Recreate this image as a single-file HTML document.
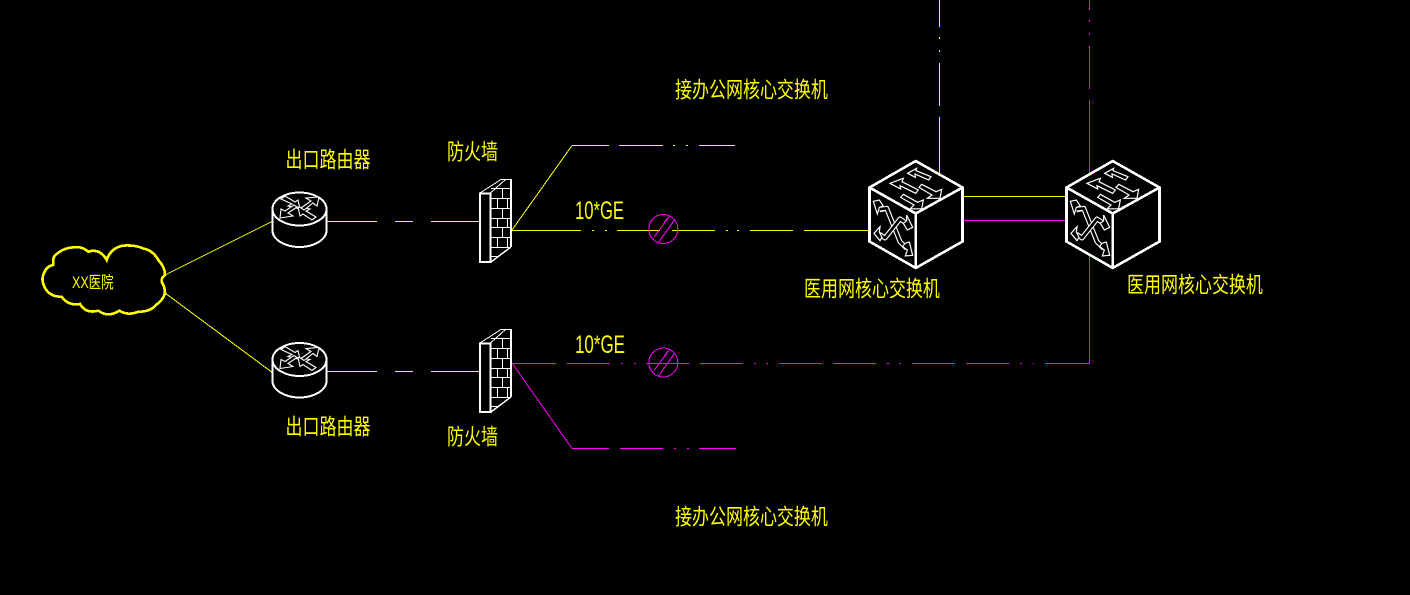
<!DOCTYPE html>
<html><head><meta charset="utf-8"><style>
html,body{margin:0;padding:0;background:#000;width:1410px;height:595px;overflow:hidden}
svg{display:block;position:absolute;left:0;top:0}
.y{stroke:#ff0;fill:none;stroke-width:1}
.m{stroke:#f0f;fill:none;stroke-width:1}
.w{stroke:#fff;fill:none}
text{fill:#ff0;font-family:"Liberation Sans","Noto Sans CJK SC",sans-serif;font-size:17px}
.l{font-family:"Liberation Sans",sans-serif;font-size:19px}
</style></head><body>
<svg width="1410" height="595" viewBox="0 0 1410 595" xmlns="http://www.w3.org/2000/svg">
<defs>
<g id="router">
<g shape-rendering="crispEdges">
<path class="w" stroke-width="2" d="M272.500 209v21.500c0 9 12.300 16.500 27 16.500s27-7.500 27-16.500V209"/>
<ellipse class="w" stroke-width="2" cx="299.500" cy="209" rx="27" ry="16.500"/>
</g>
<g fill="#000" stroke="#fff" stroke-width="1.100">
<path d="M281 199L292 204 288 206 300 209 298 200 295 202 285 196Z"/>
<path d="M316 217L306 211 310 209 298 207 300 216 303 214 312 220Z"/>
<path d="M301 208L311 201 306 198 319 197 317 206 313 203 304 210Z"/>
<path d="M297 207L288 213 293 216 280 218 281 209 285 211 294 205Z"/>
</g>
</g>
<g id="firewall" shape-rendering="crispEdges">
<rect class="w" stroke-width="2" x="480" y="193.500" width="10.500" height="68.500"/>
<path class="w" stroke-width="1" d="M480 193L501 179.500H511M490.500 193L505.500 179.500"/>
<path class="w" stroke-width="2" d="M511 179V247"/>
<path class="w" stroke-width="1.500" d="M491 262L511 247"/>
<path class="w" stroke-width="1" d="M491 188.500H511M491 198.500H511M491 208.500H511M491 218.500H511M491 227.500H511M491 237.500H511M491 247.500H511M491 256.500H499M502.500 188V198M497.500 198V208M507.500 198V208M502.500 208V218M497.500 218V227M507.500 218V227M502.500 227V237M497.500 237V247M507.500 237V247"/>
</g>
<g id="switch">
<g shape-rendering="crispEdges">
<path class="w" stroke-width="2.600" fill="#000" d="M915.700 161L962.500 187.500V241.500L915.700 268L869.500 241.500V187.500Z"/>
<path class="w" stroke-width="2.600" d="M869.500 187.500L915.700 213.500L962.500 187.500M915.700 213.500V268"/>
</g>
<g transform="translate(850,150) scale(.33333)" fill="none" stroke="#fff" stroke-width="3.600" stroke-linejoin="miter">
<path d="M173 70L200 55 198 62 243 80 236 90 195 72 196 82Z"/>
<path d="M120 100L160 85 156 95 205 120 197 130 150 107 152 117Z"/>
<path d="M215 103L258 125 275 118 270 145 232 145 246 135 207 112Z"/>
<path d="M160 133L203 157 220 150 215 176 180 177 192 165 152 142Z"/>
<path stroke-width="15" stroke-linejoin="round" d="M88 180L110 175 130 225 150 275 170 295"/>
<path stroke="#000" stroke-width="8" stroke-linejoin="round" d="M84 178L110 175 130 225 150 275 174 299"/>
<path stroke-width="15" stroke-linejoin="round" d="M88 252L105 264 150 207 170 220"/>
<path stroke="#000" stroke-width="8" stroke-linejoin="round" d="M84 250L105 264 150 207 174 222"/>
<path fill="#000" d="M70 154L88 150 100 168 88 172 82 192Z"/>
<path fill="#000" d="M72 250L90 230 88 246 96 262 90 272Z"/>
<path fill="#000" d="M188 232L170 195 170 212 160 220 172 240Z"/>
<path fill="#000" d="M188 316L166 318 172 300 158 290 165 280 178 276Z"/>
</g>
</g>
<g id="noslash" shape-rendering="crispEdges">
<circle class="m" stroke-width="1.200" cx="663.300" cy="229" r="14.500"/>
<path class="m" stroke-width="1.200" d="M654 237L669.500 216M658.500 242.500L674.500 220"/>
<path class="m" stroke-width="3" d="M664.500 222L667.500 218M670 226L673 222"/>
</g>
</defs>

<g shape-rendering="crispEdges">
<path fill="none" stroke="#ff0" stroke-width="2.600" d="M106.700 260A20 20 0 0 1 125 245.500Q136 245 143.300 248.500A22 22 0 0 1 158.300 260Q165 267 165 275Q161 278 161.700 282Q165 287 165 293.300Q163 300 156 305Q150 312 138.300 311.700Q128 316 119.300 310.700Q108 318 98.300 310.700Q86 314 80 304Q68 306 61.700 296.700Q50 297 45 288Q41 280 43.300 275Q46 266 53.300 265Q52 256 58 253Q64 248 73.300 247.300Q82 246 88.300 251.700Q100 248 106.700 260Z"/>

<path class="y" d="M165 275L273 221M165 293L273 373"/>

<path class="y" d="M327 221.500H377M395 221.500H413M431 221.500H480M327 371.500H377M395 371.500H413M431 371.500H480"/>

<path class="y" d="M512 230L572 145.500"/>
<path class="y" d="M572 145.500H609M619 145.500H663M673 145.500H675M686 145.500H688M699 145.500H735"/>
<path class="y" d="M512 230.500H581M592 230.500H594M605 230.500H607M617 230.500H660M672 230.500H715M726 230.500H728M737 230.500H739M750 230.500H793M804 230.500H870"/>

<path class="m" d="M512 363L572 448.500"/>
<path class="m" d="M572 448.500H609M620 448.500H663M674 448.500H676M687 448.500H689M699 448.500H736"/>
<path class="m" d="M511 363.500H556M567 363.500H610M621 363.500H623M634 363.500H636M646 363.500H689M700 363.500H743M754 363.500H756M766 363.500H768M779 363.500H822M833 363.500H876M887 363.500H889M899 363.500H901M912 363.500H955M966 363.500H1009M1020 363.500H1022M1033 363.500H1034M1045 363.500H1090"/>

<path class="y" d="M939.500 0V27M939.500 37V39M939.500 50V52M939.500 63V106M939.500 117V176"/>
<path class="m" d="M1089.500 0V10M1089.500 20V22M1089.500 33V35M1089.500 46V89M1089.500 100V176M1089.500 255V364"/>

<path class="y" d="M962 196.500H1067"/>
<path class="m" d="M962 220.500H1067"/>
</g>

<use href="#router"/>
<use href="#router" transform="translate(0,150.500)"/>
<use href="#firewall"/>
<use href="#firewall" transform="translate(0,150)"/>
<use href="#noslash"/>
<use href="#noslash" transform="translate(0,133.500)"/>
<use href="#switch"/>
<use href="#switch" transform="translate(197,0)"/>

<text transform="translate(285.500,167.500) scale(1,1.300)">出口路由器</text>
<text transform="translate(285.500,434.500) scale(1,1.300)">出口路由器</text>
<text transform="translate(447,159.500) scale(1,1.300)">防火墙</text>
<text transform="translate(447,444.500) scale(1,1.300)">防火墙</text>
<text transform="translate(675,97.500) scale(1,1.300)">接办公网核心交换机</text>
<text transform="translate(675,524.500) scale(1,1.300)">接办公网核心交换机</text>
<text transform="translate(804,296.500) scale(1,1.300)">医用网核心交换机</text>
<text transform="translate(1127,292.500) scale(1,1.300)">医用网核心交换机</text>
<text class="l" transform="translate(575,219) scale(1,1.300)" textLength="49" lengthAdjust="spacingAndGlyphs">10*GE</text>
<text class="l" transform="translate(575,353) scale(1,1.300)" textLength="50" lengthAdjust="spacingAndGlyphs">10*GE</text>
<text transform="translate(72,288) scale(1,1.300)" style="font-size:12.500px">XX医院</text>
</svg>
</body></html>
